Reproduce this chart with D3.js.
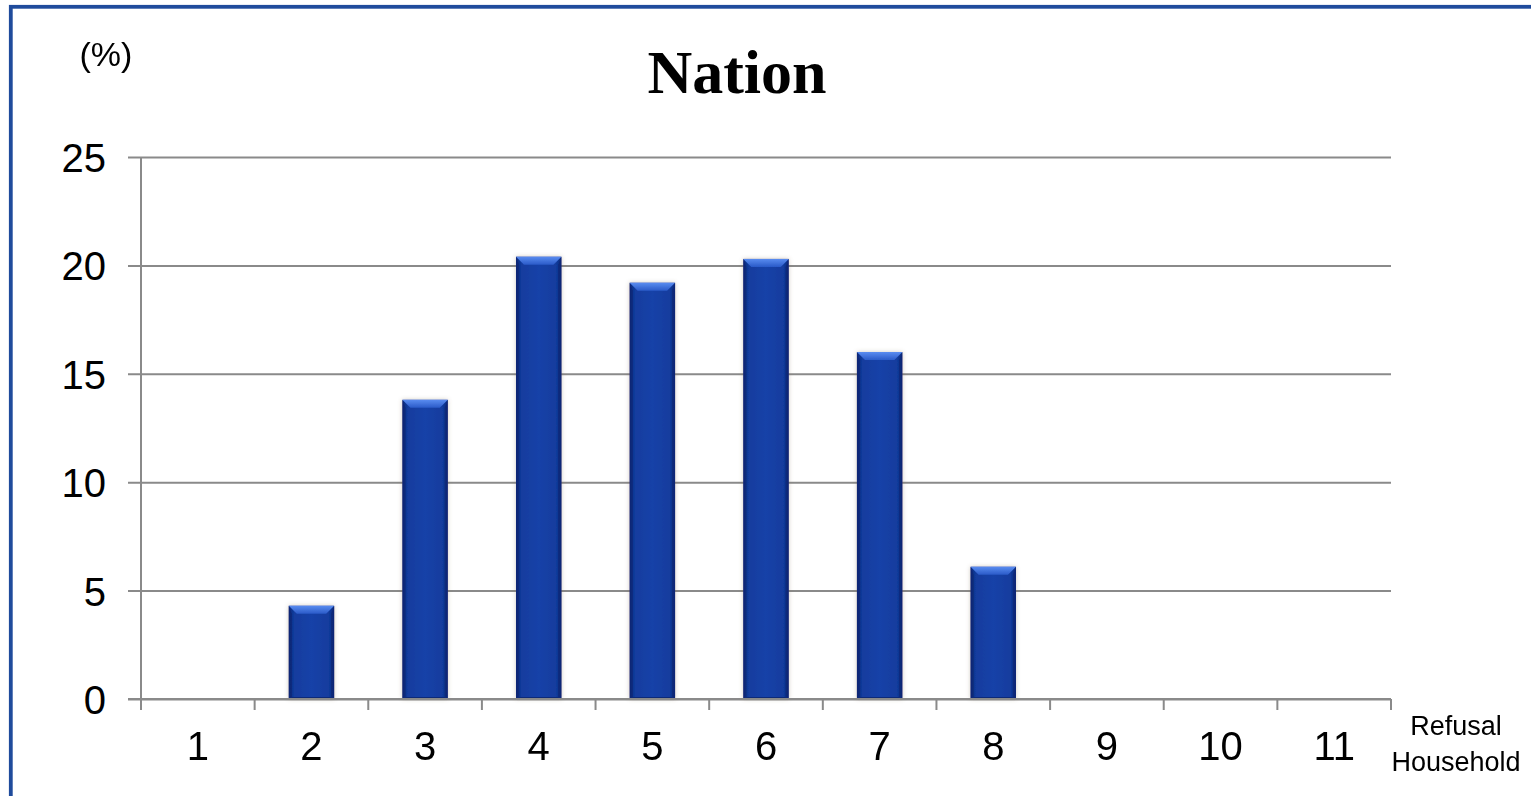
<!DOCTYPE html>
<html>
<head>
<meta charset="utf-8">
<script src="https://cdn.jsdelivr.net/npm/d3@7"></script>
<style>
  html, body { margin: 0; padding: 0; background: #ffffff; }
  svg { display: block; }
</style>
</head>
<body>
<svg id="chart" width="1531" height="796"></svg>
<script>
// Share of refusal households by household group (%)
const categories = ["1", "2", "3", "4", "5", "6", "7", "8", "9", "10", "11"];
const values = [0, 4.3, 13.8, 20.4, 19.2, 20.3, 16.0, 6.1, 0, 0, 0];
const yTicks = [0, 5, 10, 15, 20, 25];
const titleText = "Nation";
const unitText = "(%)";
const xAxisTitle = ["Refusal", "Household"];

const svg = d3.select("#chart");
const W = 1531, H = 796;
const plot = { left: 141, right: 1391, top: 157, bottom: 699 };

const x = d3.scaleBand()
  .domain(categories)
  .range([plot.left, plot.right])
  .paddingInner(0.6)
  .paddingOuter(0.3);

const y = d3.scaleLinear()
  .domain([0, 25])
  .range([plot.bottom, plot.top]);

const step = x.step();
const gridColor = "#8a8a8a";

// Outer frame (runs off the right and bottom edges)
svg.append("rect")
  .attr("x", 10.8).attr("y", 6.8)
  .attr("width", W + 20).attr("height", H + 20)
  .attr("fill", "none")
  .attr("stroke", "#1f4b9c")
  .attr("stroke-width", 3.8);

// Gradients for the bevelled bars
const defs = svg.append("defs");
const body = defs.append("linearGradient").attr("id", "barBody")
  .attr("x1", "0").attr("x2", "1").attr("y1", "0").attr("y2", "0");
body.append("stop").attr("offset", "0%").attr("stop-color", "#0a2a7c");
body.append("stop").attr("offset", "12%").attr("stop-color", "#123c9e");
body.append("stop").attr("offset", "50%").attr("stop-color", "#1742a8");
body.append("stop").attr("offset", "88%").attr("stop-color", "#123c9e");
body.append("stop").attr("offset", "100%").attr("stop-color", "#0a2a7c");

const topBevel = defs.append("linearGradient").attr("id", "barTop")
  .attr("x1", "0").attr("x2", "0").attr("y1", "0").attr("y2", "1");
topBevel.append("stop").attr("offset", "0%").attr("stop-color", "#5a8cf0");
topBevel.append("stop").attr("offset", "100%").attr("stop-color", "#2a5ac8");

const shadow = defs.append("filter").attr("id", "barShadow")
  .attr("x", "-30%").attr("y", "-10%").attr("width", "160%").attr("height", "120%");
shadow.append("feGaussianBlur").attr("in", "SourceAlpha").attr("stdDeviation", 2).attr("result", "b");
shadow.append("feFlood").attr("flood-color", "#7a6a50").attr("flood-opacity", 0.35);
shadow.append("feComposite").attr("in2", "b").attr("operator", "in").attr("result", "s");
const merge = shadow.append("feMerge");
merge.append("feMergeNode").attr("in", "s");
merge.append("feMergeNode").attr("in", "SourceGraphic");

// Horizontal gridlines with outward ticks on the left
const yAxis = d3.axisLeft(y)
  .tickValues(yTicks)
  .tickSize(plot.right - plot.left + 13)
  .tickFormat(d3.format("d"));

const gy = svg.append("g")
  .attr("transform", `translate(${plot.right},0)`)
  .call(yAxis);
gy.select(".domain").remove();
gy.selectAll(".tick line")
  .attr("stroke", gridColor).attr("stroke-width", 2);
gy.selectAll(".tick text")
  .attr("x", -(plot.right - plot.left) - 35)
  .attr("dy", "0.36em")
  .attr("fill", "#000")
  .style("font-family", "Arial, 'Liberation Sans', sans-serif")
  .style("font-size", "40px");

// Bars
const bars = svg.append("g").attr("filter", "url(#barShadow)");
const bevel = 8;
categories.forEach((c, i) => {
  const v = values[i];
  if (!(v > 0)) return;
  const x0 = x(c), w = x.bandwidth();
  const y0 = y(v), y1 = y(0);
  const g = bars.append("g");
  g.append("rect")
    .attr("x", x0).attr("y", y0)
    .attr("width", w).attr("height", y1 - y0)
    .attr("fill", "url(#barBody)");
  // top bevel
  g.append("path")
    .attr("d", `M${x0},${y0} L${x0 + w},${y0} L${x0 + w - bevel},${y0 + bevel} L${x0 + bevel},${y0 + bevel} Z`)
    .attr("fill", "url(#barTop)");
  // side bevels
  g.append("path")
    .attr("d", `M${x0},${y0} L${x0 + bevel * 0.4},${y0 + bevel} L${x0 + bevel * 0.4},${y1 - 2} L${x0},${y1} Z`)
    .attr("fill", "#082470").attr("opacity", 0.6);
  g.append("path")
    .attr("d", `M${x0 + w},${y0} L${x0 + w - bevel * 0.4},${y0 + bevel} L${x0 + w - bevel * 0.4},${y1 - 2} L${x0 + w},${y1} Z`)
    .attr("fill", "#082470").attr("opacity", 0.6);
  // bottom edge
  g.append("path")
    .attr("d", `M${x0},${y1} L${x0 + bevel * 0.4},${y1 - 2} L${x0 + w - bevel * 0.4},${y1 - 2} L${x0 + w},${y1} Z`)
    .attr("fill", "#0a2a78");
});

// Y axis line
svg.append("line")
  .attr("x1", plot.left).attr("x2", plot.left)
  .attr("y1", plot.top).attr("y2", plot.bottom + 8)
  .attr("stroke", gridColor).attr("stroke-width", 2);

// X axis baseline and category boundary ticks
svg.append("line")
  .attr("x1", plot.left - 13).attr("x2", plot.right)
  .attr("y1", plot.bottom).attr("y2", plot.bottom)
  .attr("stroke", gridColor).attr("stroke-width", 2);

const boundaries = categories.map(c => x(c) - (step - x.bandwidth()) / 2)
  .concat([plot.right]);
svg.append("g").selectAll("line")
  .data(boundaries)
  .join("line")
  .attr("x1", d => d).attr("x2", d => d)
  .attr("y1", plot.bottom).attr("y2", plot.bottom + 11)
  .attr("stroke", gridColor).attr("stroke-width", 2);

// Category labels
svg.append("g").selectAll("text")
  .data(categories)
  .join("text")
  .attr("x", d => x(d) + x.bandwidth() / 2)
  .attr("y", 760)
  .attr("text-anchor", "middle")
  .style("font-family", "Arial, 'Liberation Sans', sans-serif")
  .style("font-size", "40px")
  .attr("fill", "#000")
  .text(d => d);

// Axis title at the end of the category axis
svg.append("text")
  .attr("x", 1456).attr("y", 735)
  .attr("text-anchor", "middle")
  .style("font-family", "Arial, 'Liberation Sans', sans-serif")
  .style("font-size", "27px")
  .text(xAxisTitle[0]);
svg.append("text")
  .attr("x", 1456).attr("y", 771)
  .attr("text-anchor", "middle")
  .style("font-family", "Arial, 'Liberation Sans', sans-serif")
  .style("font-size", "27px")
  .text(xAxisTitle[1]);

// Unit label
svg.append("text")
  .attr("x", 106).attr("y", 66)
  .attr("text-anchor", "middle")
  .style("font-family", "Arial, 'Liberation Sans', sans-serif")
  .style("font-size", "34px")
  .text(unitText);

// Title
svg.append("text")
  .attr("x", 737).attr("y", 93)
  .attr("text-anchor", "middle")
  .style("font-family", "'Times New Roman', 'Liberation Serif', serif")
  .style("font-weight", "bold")
  .style("font-size", "62px")
  .text(titleText);
</script>
</body>
</html>
